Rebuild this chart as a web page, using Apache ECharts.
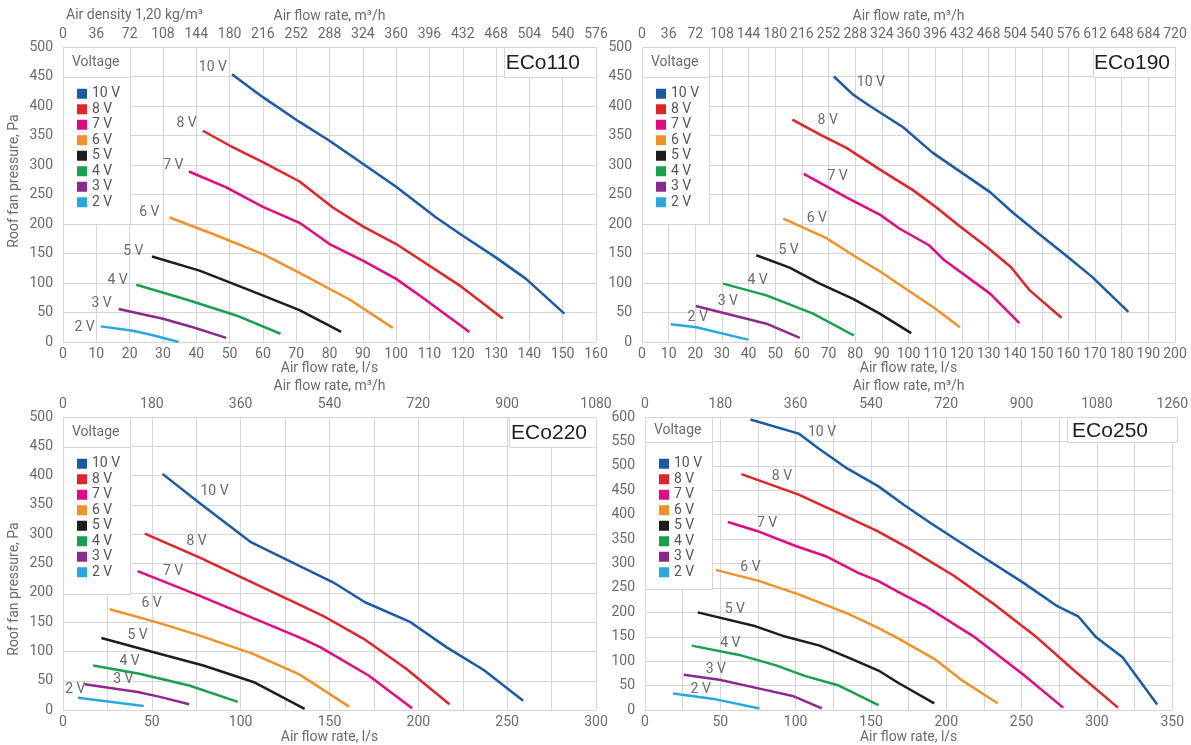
<!DOCTYPE html>
<html><head><meta charset="utf-8">
<script src="https://cdn.jsdelivr.net/npm/echarts@6/dist/echarts.min.js"></script>
<style>html,body{margin:0;padding:0;background:#fff}#c{width:1191px;height:745px}</style>
</head><body><div id="c"></div><script>
// ---------- DATA ----------
const voltages = ['10 V','8 V','7 V','6 V','5 V','4 V','3 V','2 V'];
const panelNames = ['ECo110','ECo190','ECo220','ECo250'];

// curves: [air flow l/s, pressure Pa], in order of voltages
const eco110 = [
 [[50.7,454],[60,415],[71,373],[80,341],[90,302],[100,263],[112,211],[120,180],[130,143],[139,107],[150.5,48]],
 [[42,358],[50,333],[60,305],[71,272],[81,228],[90,196],[100,166],[106,144],[119,96],[132,40]],
 [[37.8,289],[49,262],[60,229],[71,202],[80,166],[90,138],[100,107],[108,75],[122,17]],
 [[32,211],[45,183],[60,149],[71,117],[86,72],[99,24]],
 [[26.7,145],[41,121],[55,90],[71,54],[83.5,17]],
 [[22,97],[37,72],[52,45],[65.3,14]],
 [[16.7,56],[30,39.5],[39,25],[49,7]],
 [[11.3,26.5],[21,19],[27,11.5],[34.7,0]]
];
const eco190 = [
 [[72,450],[79,420],[85.5,400],[98,364],[109,321],[119,290],[130.6,254],[139,220],[149,183],[159,147],[169,110],[182.5,51]],
 [[56.4,377],[67,351],[76.7,329],[89,293],[101.8,257],[110.5,228],[119,197],[129.4,161],[138.4,127],[145.6,87],[157.4,41]],
 [[60.7,285],[76.7,245],[89.2,216],[96.7,192],[107.7,164],[113.6,138],[130.6,82],[141.6,32]],
 [[53,209],[69.2,176],[79.2,147],[89.2,120],[110.5,55],[119.3,25]],
 [[42.9,147],[55.4,126],[66.7,99],[79.2,73],[89.2,48],[101,15]],
 [[30.4,99],[46.7,79],[64.2,48],[79.5,11]],
 [[20.2,61],[46.7,31],[59.2,7]],
 [[10.8,30],[20.4,25],[39.8,4]]
];
const eco220 = [
 [[56,403],[77,353],[106,286],[133,246],[152,218],[170,184],[195,151],[216,107],[237,68],[259,16]],
 [[46,301],[77,260],[107,217],[133,180],[148,158],[169,122],[193,71],[217.5,10]],
 [[42,237],[77,195],[107,157],[133,124],[145,107],[172,59],[196.5,3]],
 [[26.3,172],[52.5,150],[77,127],[107,96],[133,61],[161,6]],
 [[21.6,123],[50.6,99],[79,76],[108,47],[136,2]],
 [[17,76],[43,62],[71,42],[98.4,14]],
 [[12.2,44],[42,31],[54,23],[71,10]],
 [[8.4,21],[45.4,7]]
];
const eco250 = [
 [[70,595],[102,566],[115,536],[133,497],[155,458],[172,420],[190,382],[220,322],[251,261],[273,214],[287.5,192],[299.5,149],[317,108],[340,11.5]],
 [[64,483],[102,441],[124,410],[154,367],[174.5,332],[205,275],[231.5,217],[260,149],[286,78],[314,5]],
 [[55,385],[76,365],[100,336],[120,315],[141.5,281],[155,264],[168,242],[185.5,214],[218,151],[251,73],[277.6,5]],
 [[47,287],[76,264],[102,237],[135,197],[155,168],[168,147],[192,105],[209,64],[234,14]],
 [[35,200],[73.5,171.5],[93,150.5],[116,132],[137,105],[155,81],[168,56],[192,13.6]],
 [[31,132],[62.5,113],[87,91.5],[106,70],[128,51],[155,10]],
 [[25.7,72.5],[49.4,62],[76,44],[98,29],[117.4,3.4]],
 [[18.7,34],[47,22],[76,3.4]]
];
// curve label anchors (data units)
const lbl110 = [[45,465],[37.1,370],[33.1,300],[25.9,219],[21.1,154],[16.4,104],[11.6,65],[6.5,25]];
const lbl190 = [[85.9,439],[69.7,375],[73.4,280],[65.6,209],[55,155],[43.4,104],[32.2,69],[20.9,42]];
const lbl220 = [[85.3,373],[75.2,288],[62,237],[49.9,181],[42,127],[37.5,83],[34,52.5],[6.9,35]];
const lbl250 = [[117.5,568],[90.9,478],[81,383],[70,292],[59.6,205],[56.6,137],[47,83],[37,43]];

// ---------- STYLE / LAYOUT ----------
const colors = ['#1b5aa5','#e3232a','#e5097f','#f19126','#1d1d1b','#17a04e','#8b2a8c','#28a8e0'];
const FONT = "Roboto,'Liberation Sans',sans-serif";
const FS = 14;
const TXT = '#6b6b6b';
const GRIDC = '#d6d6d6';
const panels = [
  {grid:{left:63, top:47, width:533, height:295}, xmax:160, xint:10, lblEvery:10, ymax:500, topMax:576, topInt:36, topEvery:36, boxBottom:200, data:eco110, lbl:lbl110, titleBoxW:92, titleRight:16, yName:[14,181]},
  {grid:{left:642, top:47, width:533, height:295}, xmax:200, xint:10, lblEvery:10, ymax:500, topMax:720, topInt:36, topEvery:36, boxBottom:200, data:eco190, lbl:lbl190, titleBoxW:82, titleRight:5},
  {grid:{left:63, top:417, width:533, height:295}, xmax:300, xint:25, lblEvery:50, ymax:500, topMax:1080, topInt:90, topEvery:180, boxBottom:200, data:eco220, lbl:lbl220, titleBoxW:87, titleRight:9, yName:[14,589]},
  {grid:{left:645, top:417, width:532, height:295}, xmax:350, xint:25, lblEvery:50, ymax:600, topMax:1260, topInt:90, topEvery:180, boxBottom:250, data:eco250, lbl:lbl250, titleBoxW:110, titleRight:29}
];

const grids = [], xAxes = [], yAxes = [], series = [], legends = [], graphics = [];
const ts = (extra) => Object.assign({color: TXT, fontSize: FS, fontFamily: FONT}, extra || {});

panels.forEach((p, i) => {
  const g = p.grid;
  grids.push(Object.assign({containLabel:false}, g));
  xAxes.push({
    type:'value', gridIndex:i, position:'bottom', min:0, max:p.xmax, interval:p.xint,
    axisLine:{show:false}, axisTick:{show:false},
    splitLine:{show:true, lineStyle:{color:GRIDC, width:1}},
    axisLabel:Object.assign(ts(), {margin:5, formatter:v => (v % p.lblEvery === 0 ? String(v) : '')}),
    name:'Air flow rate, l/s', nameLocation:'middle', nameGap:19, nameTextStyle:ts()
  });
  xAxes.push({
    type:'value', gridIndex:i, position:'top', min:0, max:p.topMax, interval:p.topInt,
    axisLine:{show:false}, axisTick:{show:false}, splitLine:{show:false},
    axisLabel:Object.assign(ts(), {margin:6, formatter:v => (v % p.topEvery === 0 ? String(v) : '')}),
    name:'Air flow rate, m³/h', nameLocation:'middle', nameGap:24, nameTextStyle:ts()
  });
  yAxes.push({
    type:'value', gridIndex:i, min:0, max:p.ymax, interval:50,
    axisLine:{show:false}, axisTick:{show:false},
    splitLine:{show:true, lineStyle:{color:GRIDC, width:1}},
    axisLabel:Object.assign(ts(), {margin:10})
  });
  p.data.forEach((curve, k) => {
    series.push({
      type:'line', name:voltages[k], xAxisIndex:2*i, yAxisIndex:i,
      data:curve, symbol:'none', showSymbol:false, silent:true, animation:false,
      color:colors[k], lineStyle:{width:2.5, color:colors[k]}, itemStyle:{color:colors[k]},
      emphasis:{disabled:true}, z:3,
      markPoint:{
        silent:true, animation:false, symbol:'circle', symbolSize:1,
        itemStyle:{color:'rgba(0,0,0,0)'},
        label:Object.assign(ts(), {show:true, position:'inside', formatter:voltages[k]}),
        data:[{coord:p.lbl[k]}]
      }
    });
  });
  legends.push({
    left:g.left + 14, top:g.top + 39, orient:'vertical', icon:'rect',
    itemWidth:10, itemHeight:10, itemGap:0, padding:0, selectedMode:false,
    textStyle:ts({color:'#555', lineHeight:15.5}), data:voltages
  });
  // decorative boxes
  const yPix = v => g.top + (1 - v / p.ymax) * g.height;
  const y1 = Math.round(yPix(p.ymax - 50)) + 0.5;
  const top = g.top + 0.5, left = g.left + 0.5, right = g.left + g.width + 0.5;
  const yb = Math.round(yPix(p.boxBottom)) + 0.5;
  const boxStyle = {fill:'#fff', stroke:GRIDC, lineWidth:1};
  graphics.push({type:'rect', z:1, silent:true, shape:{x:left, y:top, width:67, height:y1 - top}, style:boxStyle});
  graphics.push({type:'rect', z:1, silent:true, shape:{x:left, y:y1, width:67, height:yb - y1}, style:boxStyle});
  graphics.push({type:'text', z:5, silent:true, x:g.left + 9, y:(top + y1) / 2,
    style:{text:'Voltage', fill:TXT, font:FS + 'px ' + FONT, verticalAlign:'middle', align:'left'}});
  graphics.push({type:'rect', z:1, silent:true, shape:{x:right - p.titleBoxW, y:top, width:p.titleBoxW, height:y1 - top}, style:boxStyle});
  graphics.push({type:'text', z:5, silent:true, x:g.left + g.width - p.titleRight, y:(top + y1) / 2 + 1,
    style:{text:panelNames[i], fill:'#1e1e1e', font:'21px "Liberation Sans", Arial, sans-serif', verticalAlign:'middle', align:'right'}});
  if (p.yName) {
    graphics.push({type:'text', z:5, silent:true, x:p.yName[0], y:p.yName[1], rotation:Math.PI / 2,
      style:{text:'Roof fan pressure, Pa', fill:TXT, font:FS + 'px ' + FONT, verticalAlign:'middle', align:'center'}});
  }
});
graphics.push({type:'text', z:5, silent:true, x:66, y:15,
  style:{text:'Air density 1,20 kg/m³', fill:TXT, font:FS + 'px ' + FONT, verticalAlign:'middle', align:'left'}});

const chart = echarts.init(document.getElementById('c'), null, {renderer:'canvas'});
chart.setOption({
  animation:false, backgroundColor:'#fff',
  grid:grids, xAxis:xAxes, yAxis:yAxes, series:series, legend:legends, graphic:graphics
});
</script></body></html>
